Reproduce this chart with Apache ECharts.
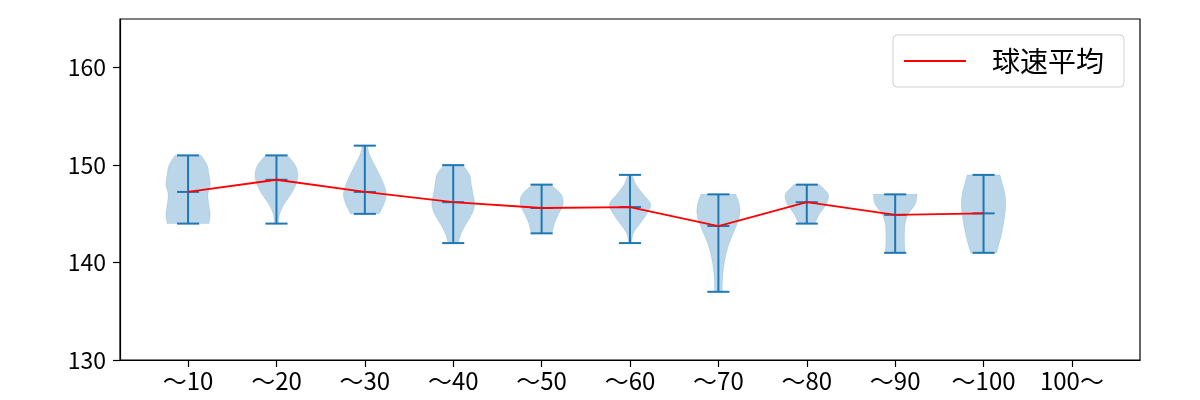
<!DOCTYPE html>
<html>
<head>
<meta charset="utf-8">
<script src="https://cdn.jsdelivr.net/npm/echarts@6/dist/echarts.min.js"></script>
<style>html,body{margin:0;padding:0;background:#fff}#c{width:1200px;height:400px}</style>
</head>
<body>
<div id="c"></div>
<script>
const categories = ['〜10','〜20','〜30','〜40','〜50','〜60','〜70','〜80','〜90','〜100','100〜'];
const positions = [1,2,3,4,5,6,7,8,9,10];
const means = [147.25, 148.5, 147.25, 146.2, 145.6, 145.7, 143.75, 146.2, 144.9, 145.05];
const mins  = [144, 144, 145, 142, 143, 142, 137, 144, 141, 141];
const maxs  = [151, 151, 152, 150, 148, 149, 147, 148, 147, 149];
// relative half-widths of each violin, sampled from max down to min in steps of 1
const prof1  = [0.59, 0.86, 0.95, 1.0, 0.9, 0.94, 1.0, 0.95];
const prof2  = [0.5, 0.85, 0.97, 0.88, 0.65, 0.35, 0.15, 0.09];
const prof3  = [0.1, 0.23, 0.45, 0.67, 0.86, 0.97, 0.86, 0.65];
const prof4  = [0.44, 0.74, 0.82, 0.9, 0.97, 0.85, 0.59, 0.36, 0.23];
const prof5  = [0.42, 0.88, 0.97, 0.77, 0.58, 0.47];
const prof6  = [0.09, 0.27, 0.6, 0.93, 0.76, 0.45, 0.15, 0.07];
const prof7  = [0.79, 0.94, 0.97, 0.85, 0.67, 0.49, 0.36, 0.27, 0.21, 0.18, 0.17];
const prof8  = [0.58, 0.97, 0.88, 0.58, 0.35];
const prof9  = [0.99, 0.91, 0.6, 0.45, 0.42, 0.42, 0.45];
const prof10 = [0.74, 0.86, 0.97, 1.0, 0.97, 0.9, 0.82, 0.71, 0.59];
const profiles = [prof1, prof2, prof3, prof4, prof5, prof6, prof7, prof8, prof9, prof10];
const yTicks = [130, 140, 150, 160];

const FONT = '"Noto Sans CJK JP", "Noto Sans", sans-serif';
const BLUE = '#1f77b4';
const MAXHALF = 0.25;
const CAPHALF = 0.125;

function catmull(pts, n) {
  const out = [];
  for (let i = 0; i < pts.length - 1; i++) {
    const p0 = pts[Math.max(i - 1, 0)], p1 = pts[i], p2 = pts[i + 1], p3 = pts[Math.min(i + 2, pts.length - 1)];
    for (let k = 0; k < n; k++) {
      const t = k / n, t2 = t * t, t3 = t2 * t;
      const f = (a, b, c, d) => 0.5 * ((2 * b) + (-a + c) * t + (2 * a - 5 * b + 4 * c - d) * t2 + (-a + 3 * b - 3 * c + d) * t3);
      out.push([f(p0[0], p1[0], p2[0], p3[0]), f(p0[1], p1[1], p2[1], p3[1])]);
    }
  }
  out.push(pts[pts.length - 1]);
  return out;
}

const violinData = positions.map((p, i) => [p, i]);

function renderViolin(params, api) {
  const pos = api.value(0);
  const i = api.value(1);
  const prof = profiles[i];
  const hi = maxs[i], lo = mins[i];
  const step = (hi - lo) / (prof.length - 1);
  const right = [], left = [];
  prof.forEach((r, k) => {
    const v = hi - k * step;
    right.push(api.coord([pos + r * MAXHALF, v]));
    left.push(api.coord([pos - r * MAXHALF, v]));
  });
  const rs = catmull(right, 8);
  const ls = catmull(left, 8).reverse();
  const poly = rs.concat(ls);
  const top = api.coord([pos, hi]), bot = api.coord([pos, lo]), mn = api.coord([pos, means[i]]);
  const capL = api.coord([pos - CAPHALF, hi])[0], capR = api.coord([pos + CAPHALF, hi])[0];
  const ls2 = { stroke: BLUE, lineWidth: 2 };
  return {
    type: 'group',
    children: [
      { type: 'polygon', shape: { points: poly }, style: { fill: 'rgba(31,119,180,0.3)', stroke: 'rgba(31,119,180,0.3)', lineWidth: 0.5 } },
      { type: 'line', shape: { x1: top[0], y1: top[1], x2: bot[0], y2: bot[1] }, style: ls2 },
      { type: 'line', shape: { x1: capL, y1: top[1], x2: capR, y2: top[1] }, style: ls2 },
      { type: 'line', shape: { x1: capL, y1: bot[1], x2: capR, y2: bot[1] }, style: ls2 },
      { type: 'line', shape: { x1: capL, y1: mn[1], x2: capR, y2: mn[1] }, style: ls2 }
    ]
  };
}

const chart = echarts.init(document.getElementById('c'), null, { renderer: 'canvas' });
chart.setOption({
  animation: false,
  backgroundColor: '#fff',
  textStyle: { fontFamily: FONT },
  grid: { left: 120, right: 60, top: 19, bottom: 40, show: true, borderColor: '#000', borderWidth: 1.2, containLabel: false },
  legend: {
    left: 893, top: 35,
    padding: [12, 20, 12, 11],
    borderColor: '#d0d0d0', borderWidth: 1, borderRadius: 4,
    backgroundColor: 'rgba(255,255,255,0.8)',
    itemWidth: 62, itemHeight: 28,
    textStyle: { fontFamily: FONT, fontSize: 28, color: '#000', padding: [0, 0, 0, 21] },
    data: [{ name: '球速平均', icon: 'path://M0,0 M62,28 M0,13.1 L62,13.1 L62,14.9 L0,14.9 Z', itemStyle: { color: 'red' } }]
  },
  xAxis: {
    type: 'value', min: 0.23, max: 11.77,
    splitLine: { show: false },
    axisLine: { show: true, lineStyle: { color: '#000', width: 1.2 } },
    axisTick: { show: true, length: 7, lineStyle: { color: '#000', width: 1.2 }, customValues: categories.map((c, i) => i + 1) },
    axisLabel: { fontFamily: FONT, fontSize: 24, color: '#000', margin: 9, customValues: categories.map((c, i) => i + 1), formatter: v => categories[Math.round(v) - 1] || '' }
  },
  yAxis: {
    type: 'value', min: 130, max: 165,
    splitLine: { show: false },
    axisLine: { show: true, lineStyle: { color: '#000', width: 1.2 } },
    axisTick: { show: true, length: 7, lineStyle: { color: '#000', width: 1.2 }, customValues: yTicks },
    axisLabel: { fontFamily: FONT, fontSize: 23, color: '#000', margin: 14, customValues: yTicks }
  },
  series: [
    { type: 'custom', name: 'violin', renderItem: renderViolin, data: violinData, encode: { x: 0, y: -1 }, z: 2, clip: true, tooltip: { show: false } },
    { type: 'line', name: '球速平均', data: positions.map((p, i) => [p, means[i]]), symbol: 'none', showSymbol: false, lineStyle: { color: 'red', width: 1.8 }, itemStyle: { color: 'red' }, z: 3 }
  ]
});
</script>
</body>
</html>
